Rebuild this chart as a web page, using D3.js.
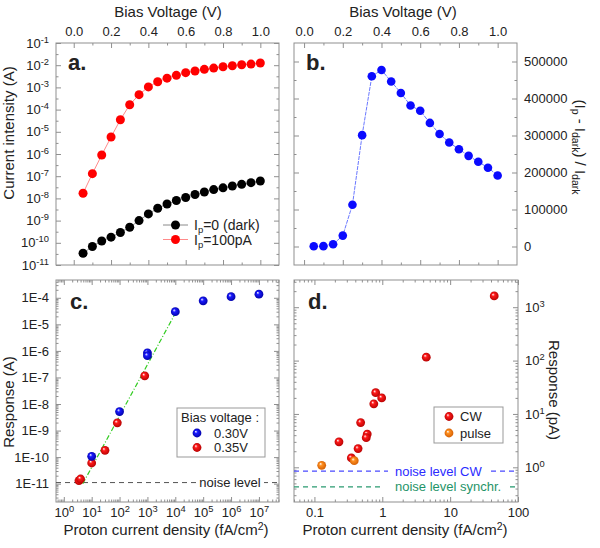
<!DOCTYPE html>
<html>
<head>
<meta charset="utf-8">
<script src="https://cdn.jsdelivr.net/npm/d3@7"></script>
<style>
  body { margin: 0; background: #fff; }
  svg text { font-family: "Liberation Sans", Arial, sans-serif; fill: #222; }
</style>
</head>
<body>
<svg id="chart" width="600" height="548"></svg>
<script>
// panel a / b : bias voltage sweep
const biasV = [0.05, 0.10, 0.15, 0.20, 0.25, 0.30, 0.35, 0.40, 0.45, 0.50,
               0.55, 0.60, 0.65, 0.70, 0.75, 0.80, 0.85, 0.90, 0.95, 1.00];
const currentDark = [3.4e-11, 6.8e-11, 1.2e-10, 1.8e-10, 2.9e-10, 5e-10, 1e-9, 2e-9, 3.6e-9, 5.6e-9,
                     8e-9, 1.1e-8, 1.5e-8, 1.95e-8, 2.5e-8, 3e-8, 3.6e-8, 4.3e-8, 5.1e-8, 6.1e-8];
const current100pA = [1.7e-8, 1.3e-7, 9e-7, 5.8e-6, 3.5e-5, 1.65e-4, 4.7e-4, 1.05e-3, 1.8e-3, 2.6e-3,
                      3.5e-3, 4.6e-3, 5.5e-3, 6.5e-3, 7.4e-3, 8.5e-3, 9.5e-3, 1.05e-2, 1.12e-2, 1.25e-2];
const gainRatio = [500, 1000, 6000, 29500, 113000, 301000, 460000, 477000, 446000, 415000,
                   381000, 367000, 334000, 304000, 281000, 263000, 245000, 229000, 213000, 192000];

// panel c : response vs proton current density
const densC030 = [10, 100, 1000, 1000, 1e4, 1e5, 1e6, 1e7];
const respC030 = [1.07e-10, 5.2e-9, 8.5e-7, 6.6e-7, 3e-5, 7.7e-5, 1.1e-4, 1.37e-4];
const densC035 = [3.5, 4, 10, 30, 83, 800];
const respC035 = [1.3e-11, 1.5e-11, 6e-11, 1.8e-10, 1.95e-9, 1.15e-7];
const fitDens = [4.8, 1e4];
const fitResp = [1e-11, 2.6e-5];
const noiseC = 1.1e-11;

// panel d : low density response (pA)
const densCW = [44.6, 4.45, 0.8, 0.98, 0.75, 0.48, 0.6, 0.58, 0.23, 0.44, 0.35];
const respCW = [1630, 116, 25, 20, 15.5, 6.9, 4.2, 3.6, 3.0, 2.24, 1.5];
const densPulse = [0.128, 0.386];
const respPulse = [1.09, 1.33];
const noiseCW = 0.85;
const noiseSync = 0.43;

const svg = d3.select("#chart");
const frameColor = "#8f8f8f";
const tickFont = 13;

// scales
const xa = d3.scaleLinear().domain([-0.095, 1.1]).range([56, 279]);
const ya = d3.scaleLog().domain([1e-11, 1e-1]).range([265, 43]);
const xb = d3.scaleLinear().domain([-0.052, 1.1]).range([294, 517]);
const yb = d3.scaleLinear().domain([-50000, 550000]).range([265, 43]);
const xc = d3.scaleLog().domain([Math.pow(10, -0.28), Math.pow(10, 7.72)]).range([56, 279]);
const yc = d3.scaleLog().domain([Math.pow(10, -11.69), Math.pow(10, -3.33)]).range([502, 280]);
const xd = d3.scaleLog().domain([0.05, 100]).range([294, 518]);
const yd = d3.scaleLog().domain([Math.pow(10, -0.65), Math.pow(10, 3.51)]).range([502, 280]);

// sphere gradients
const defs = svg.append("defs");
function sphere(id, base, dark) {
  const g = defs.append("radialGradient").attr("id", id)
    .attr("cx", "50%").attr("cy", "50%").attr("r", "55%")
    .attr("fx", "35%").attr("fy", "32%");
  g.append("stop").attr("offset", "0%").attr("stop-color", "#ffffff");
  g.append("stop").attr("offset", "32%").attr("stop-color", base);
  g.append("stop").attr("offset", "100%").attr("stop-color", dark);
}
sphere("gRed", "#ff1a1a", "#b00000");
sphere("gBlue", "#1a1aff", "#0000a0");
sphere("gOrange", "#ff9020", "#d05a00");

function supLabel(sel, base, exp) {
  sel.text(base);
  sel.append("tspan").attr("dy", -5).attr("font-size", "0.72em").text(exp);
}

function minorLog(scale) {
  const [a, b] = scale.domain();
  const out = [];
  for (let e = Math.floor(Math.log10(a)); e <= Math.ceil(Math.log10(b)); e++) {
    for (let m = 2; m <= 9; m++) {
      const v = m * Math.pow(10, e);
      if (v >= a && v <= b) out.push(v);
    }
  }
  return out;
}

// draw one axis: major ticks + optional minor ticks, inward
function drawAxis(kind, scale, pos, majors, minors, fmt) {
  const mk = { left: d3.axisLeft, right: d3.axisRight, top: d3.axisTop, bottom: d3.axisBottom }[kind];
  const tr = (kind === "left" || kind === "right") ? `translate(${pos},0)` : `translate(0,${pos})`;
  if (minors && minors.length) {
    svg.append("g").attr("transform", tr)
      .call(mk(scale).tickValues(minors).tickSize(-2.5).tickFormat(""))
      .call(g => g.select(".domain").remove())
      .call(g => g.selectAll("line").attr("stroke", frameColor));
  }
  const g = svg.append("g").attr("transform", tr)
    .call(mk(scale).tickValues(majors).tickSize(-5).tickPadding(kind === "bottom" ? 6 : 7)
      .tickFormat(""));
  g.select(".domain").remove();
  g.selectAll("line").attr("stroke", frameColor);
  g.selectAll("text").attr("font-size", tickFont).attr("fill", "#222")
    .style("font-family", '"Liberation Sans", Arial, sans-serif');
  if (fmt) g.selectAll("text").each(function (d) { fmt(d3.select(this), d); });
  return g;
}

function frame(x0, x1, y0, y1) {
  svg.append("rect").attr("x", x0).attr("y", y0).attr("width", x1 - x0).attr("height", y1 - y0)
    .attr("fill", "none").attr("stroke", frameColor).attr("stroke-width", 1);
}

const volts = [0, 0.2, 0.4, 0.6, 0.8, 1.0];
const voltsMinor = [0.1, 0.3, 0.5, 0.7, 0.9];
const fmtV = (s, d) => s.text(d.toFixed(1));
const expFmt = (s, d) => supLabel(s, "10", String(Math.round(Math.log10(d))));

// ---------------- panel a ----------------
const aDecades = d3.range(-11, 0).map(e => Math.pow(10, e));
const aHalf = d3.range(-11, -1).map(e => 3.16 * Math.pow(10, e));
frame(56, 279, 43, 265);
drawAxis("top", xa, 43, volts, voltsMinor, fmtV);
drawAxis("bottom", xa, 265, volts, voltsMinor, null);
drawAxis("left", ya, 56, aDecades, aHalf, expFmt);
drawAxis("right", ya, 279, aDecades, aHalf, null);

const lineA = d3.line().x(d => xa(d[0])).y(d => ya(d[1]));
svg.append("path").datum(d3.zip(biasV, currentDark)).attr("d", lineA)
  .attr("fill", "none").attr("stroke", "#9a9a9a").attr("stroke-width", 1);
svg.append("path").datum(d3.zip(biasV, current100pA)).attr("d", lineA)
  .attr("fill", "none").attr("stroke", "#ff8a8a").attr("stroke-width", 1);
svg.selectAll(".ptDark").data(d3.zip(biasV, currentDark)).enter().append("circle")
  .attr("cx", d => xa(d[0])).attr("cy", d => ya(d[1])).attr("r", 4.5).attr("fill", "#000");
svg.selectAll(".ptRed").data(d3.zip(biasV, current100pA)).enter().append("circle")
  .attr("cx", d => xa(d[0])).attr("cy", d => ya(d[1])).attr("r", 4.5).attr("fill", "#ff0000");

// legend a
const legA = [{ c: "#000", l: "#8a8a8a", t: "=0 (dark)", y: 225 }, { c: "#ff0000", l: "#ff8a8a", t: "=100pA", y: 239.5 }];
legA.forEach(e => {
  svg.append("line").attr("x1", 163).attr("x2", 188).attr("y1", e.y).attr("y2", e.y)
    .attr("stroke", e.l).attr("stroke-width", 1);
  svg.append("circle").attr("cx", 175.5).attr("cy", e.y).attr("r", 4.5).attr("fill", e.c);
  const t = svg.append("text").attr("x", 194).attr("y", e.y + 5).attr("font-size", 14).text("I");
  t.append("tspan").attr("dy", 3).attr("font-size", 9.5).text("p");
  t.append("tspan").attr("dy", -3).text(e.t);
});
svg.append("text").attr("x", 68).attr("y", 70).attr("font-size", 22).attr("font-weight", "bold").text("a.");

// ---------------- panel b ----------------
const bMajor = [0, 100000, 200000, 300000, 400000, 500000];
const bMinor = [50000, 150000, 250000, 350000, 450000];
frame(294, 517, 43, 265);
drawAxis("top", xb, 43, volts, voltsMinor, fmtV);
drawAxis("bottom", xb, 265, volts, voltsMinor, null);
drawAxis("left", yb, 294, bMajor, bMinor, null);
drawAxis("right", yb, 517, bMajor, bMinor, (s, d) => s.text(String(d)));

svg.append("path").datum(d3.zip(biasV, gainRatio))
  .attr("d", d3.line().x(d => xb(d[0])).y(d => yb(d[1])))
  .attr("fill", "none").attr("stroke", "#6a78ff").attr("stroke-width", 1)
  .attr("stroke-dasharray", "4,1");
svg.selectAll(".ptB").data(d3.zip(biasV, gainRatio)).enter().append("circle")
  .attr("cx", d => xb(d[0])).attr("cy", d => yb(d[1])).attr("r", 4.3).attr("fill", "#0a0aff");
svg.append("text").attr("x", 306).attr("y", 70).attr("font-size", 22).attr("font-weight", "bold").text("b.");

// ---------------- panel c ----------------
const cX = d3.range(0, 8).map(e => Math.pow(10, e));
const cY = d3.range(-11, -3).map(e => Math.pow(10, e));
frame(56, 279, 280, 502);
drawAxis("bottom", xc, 502, cX, minorLog(xc), expFmt);
drawAxis("top", xc, 280, cX, minorLog(xc), null);
drawAxis("left", yc, 56, cY, minorLog(yc), (s, d) => s.text("1E" + Math.round(Math.log10(d))));
drawAxis("right", yc, 279, cY, minorLog(yc), null);

// noise level
svg.append("line").attr("x1", 56).attr("x2", 279).attr("y1", yc(noiseC)).attr("y2", yc(noiseC))
  .attr("stroke", "#555").attr("stroke-width", 1).attr("stroke-dasharray", "5,4");
svg.append("rect").attr("x", 196).attr("y", yc(noiseC) - 8).attr("width", 68).attr("height", 16).attr("fill", "#fff");
svg.append("text").attr("x", 230).attr("y", yc(noiseC) + 4.5).attr("text-anchor", "middle")
  .attr("font-size", 13).attr("fill", "#333").text("noise level");

// fit line
svg.append("path").datum(d3.zip(fitDens, fitResp))
  .attr("d", d3.line().x(d => xc(d[0])).y(d => yc(d[1])))
  .attr("fill", "none").attr("stroke", "#33cc22").attr("stroke-width", 1.2).attr("stroke-dasharray", "5,2,1,2");

svg.selectAll(".ptC35").data(d3.zip(densC035, respC035)).enter().append("circle")
  .attr("cx", d => xc(d[0])).attr("cy", d => yc(d[1])).attr("r", 4.4).attr("fill", "url(#gRed)");
svg.selectAll(".ptC30").data(d3.zip(densC030, respC030)).enter().append("circle")
  .attr("cx", d => xc(d[0])).attr("cy", d => yc(d[1])).attr("r", 4.4).attr("fill", "url(#gBlue)");

// legend c
svg.append("rect").attr("x", 177).attr("y", 408).attr("width", 88).attr("height", 49)
  .attr("fill", "#fff").attr("stroke", "#999").attr("stroke-width", 1);
svg.append("text").attr("x", 181).attr("y", 421.5).attr("font-size", 13).text("Bias voltage :");
[{ f: "url(#gBlue)", t: "0.30V", y: 433 }, { f: "url(#gRed)", t: "0.35V", y: 447.5 }].forEach(e => {
  svg.append("circle").attr("cx", 197).attr("cy", e.y).attr("r", 4.4).attr("fill", e.f);
  svg.append("text").attr("x", 214).attr("y", e.y + 4.5).attr("font-size", 13).text(e.t);
});
svg.append("text").attr("x", 70).attr("y", 309).attr("font-size", 22).attr("font-weight", "bold").text("c.");

// ---------------- panel d ----------------
const dX = [0.1, 1, 10, 100];
const dY = [1, 10, 100, 1000];
frame(294, 518, 280, 502);
drawAxis("bottom", xd, 502, dX, minorLog(xd), (s, d) => s.text(String(d)));
drawAxis("top", xd, 280, dX, minorLog(xd), null);
drawAxis("left", yd, 294, dY, minorLog(yd), null);
drawAxis("right", yd, 518, dY, minorLog(yd), expFmt);

// noise levels
svg.append("line").attr("x1", 294).attr("x2", 388).attr("y1", yd(noiseCW)).attr("y2", yd(noiseCW))
  .attr("stroke", "#4a4aff").attr("stroke-width", 1.3).attr("stroke-dasharray", "5,4");
svg.append("line").attr("x1", 491).attr("x2", 518).attr("y1", yd(noiseCW)).attr("y2", yd(noiseCW))
  .attr("stroke", "#4a4aff").attr("stroke-width", 1.3).attr("stroke-dasharray", "5,4");
svg.append("text").attr("x", 395).attr("y", yd(noiseCW) + 4.5).attr("font-size", 13)
  .style("fill", "#2b2bff").text("noise level CW");
svg.append("line").attr("x1", 294).attr("x2", 382).attr("y1", yd(noiseSync)).attr("y2", yd(noiseSync))
  .attr("stroke", "#2a9a70").attr("stroke-width", 1.3).attr("stroke-dasharray", "5,4");
svg.append("line").attr("x1", 510).attr("x2", 518).attr("y1", yd(noiseSync)).attr("y2", yd(noiseSync))
  .attr("stroke", "#2a9a70").attr("stroke-width", 1.3).attr("stroke-dasharray", "5,4");
svg.append("text").attr("x", 395).attr("y", yd(noiseSync) + 4.5).attr("font-size", 13)
  .style("fill", "#1f9468").text("noise level synchr.");

svg.selectAll(".ptCW").data(d3.zip(densCW, respCW)).enter().append("circle")
  .attr("cx", d => xd(d[0])).attr("cy", d => yd(d[1])).attr("r", 4.4).attr("fill", "url(#gRed)");
svg.selectAll(".ptPulse").data(d3.zip(densPulse, respPulse)).enter().append("circle")
  .attr("cx", d => xd(d[0])).attr("cy", d => yd(d[1])).attr("r", 4.4).attr("fill", "url(#gOrange)");

// legend d
svg.append("rect").attr("x", 434).attr("y", 407).attr("width", 69).attr("height", 36)
  .attr("fill", "#fff").attr("stroke", "#999").attr("stroke-width", 1);
[{ f: "url(#gRed)", t: "CW", y: 416.5 }, { f: "url(#gOrange)", t: "pulse", y: 433 }].forEach(e => {
  svg.append("circle").attr("cx", 449).attr("cy", e.y).attr("r", 4.4).attr("fill", e.f);
  svg.append("text").attr("x", 460).attr("y", e.y + 4.5).attr("font-size", 13).text(e.t);
});
svg.append("text").attr("x", 308).attr("y", 309).attr("font-size", 22).attr("font-weight", "bold").text("d.");

// ---------------- axis titles ----------------
const tSize = 15;
svg.append("text").attr("x", 168).attr("y", 17).attr("text-anchor", "middle").attr("font-size", tSize).text("Bias Voltage (V)");
svg.append("text").attr("x", 403).attr("y", 17).attr("text-anchor", "middle").attr("font-size", tSize).text("Bias Voltage (V)");

svg.append("text").attr("transform", "translate(14,133) rotate(-90)").attr("text-anchor", "middle")
  .attr("font-size", tSize).text("Current intensity (A)");
svg.append("text").attr("transform", "translate(14,402) rotate(-90)").attr("text-anchor", "middle")
  .attr("font-size", tSize).text("Response (A)");

function cm2(x, y) {
  const t = svg.append("text").attr("x", x).attr("y", y).attr("text-anchor", "middle").attr("font-size", tSize)
    .text("Proton current density (fA/cm");
  t.append("tspan").attr("dy", -5).attr("font-size", 10.5).text("2");
  t.append("tspan").attr("dy", 5).text(")");
}
cm2(166, 535);
cm2(405, 535);

// right titles (reading downward)
const rb = svg.append("text").attr("transform", "translate(575,147) rotate(90)").attr("text-anchor", "middle")
  .attr("font-size", tSize).text("(I");
rb.append("tspan").attr("dy", 3).attr("font-size", 10.5).text("p");
rb.append("tspan").attr("dy", -3).text(" - I");
rb.append("tspan").attr("dy", 3).attr("font-size", 10.5).text("dark");
rb.append("tspan").attr("dy", -3).text(") / I");
rb.append("tspan").attr("dy", 3).attr("font-size", 10.5).text("dark");

svg.append("text").attr("transform", "translate(549,390) rotate(90)").attr("text-anchor", "middle")
  .attr("font-size", tSize).text("Response (pA)");
</script>
</body>
</html>
